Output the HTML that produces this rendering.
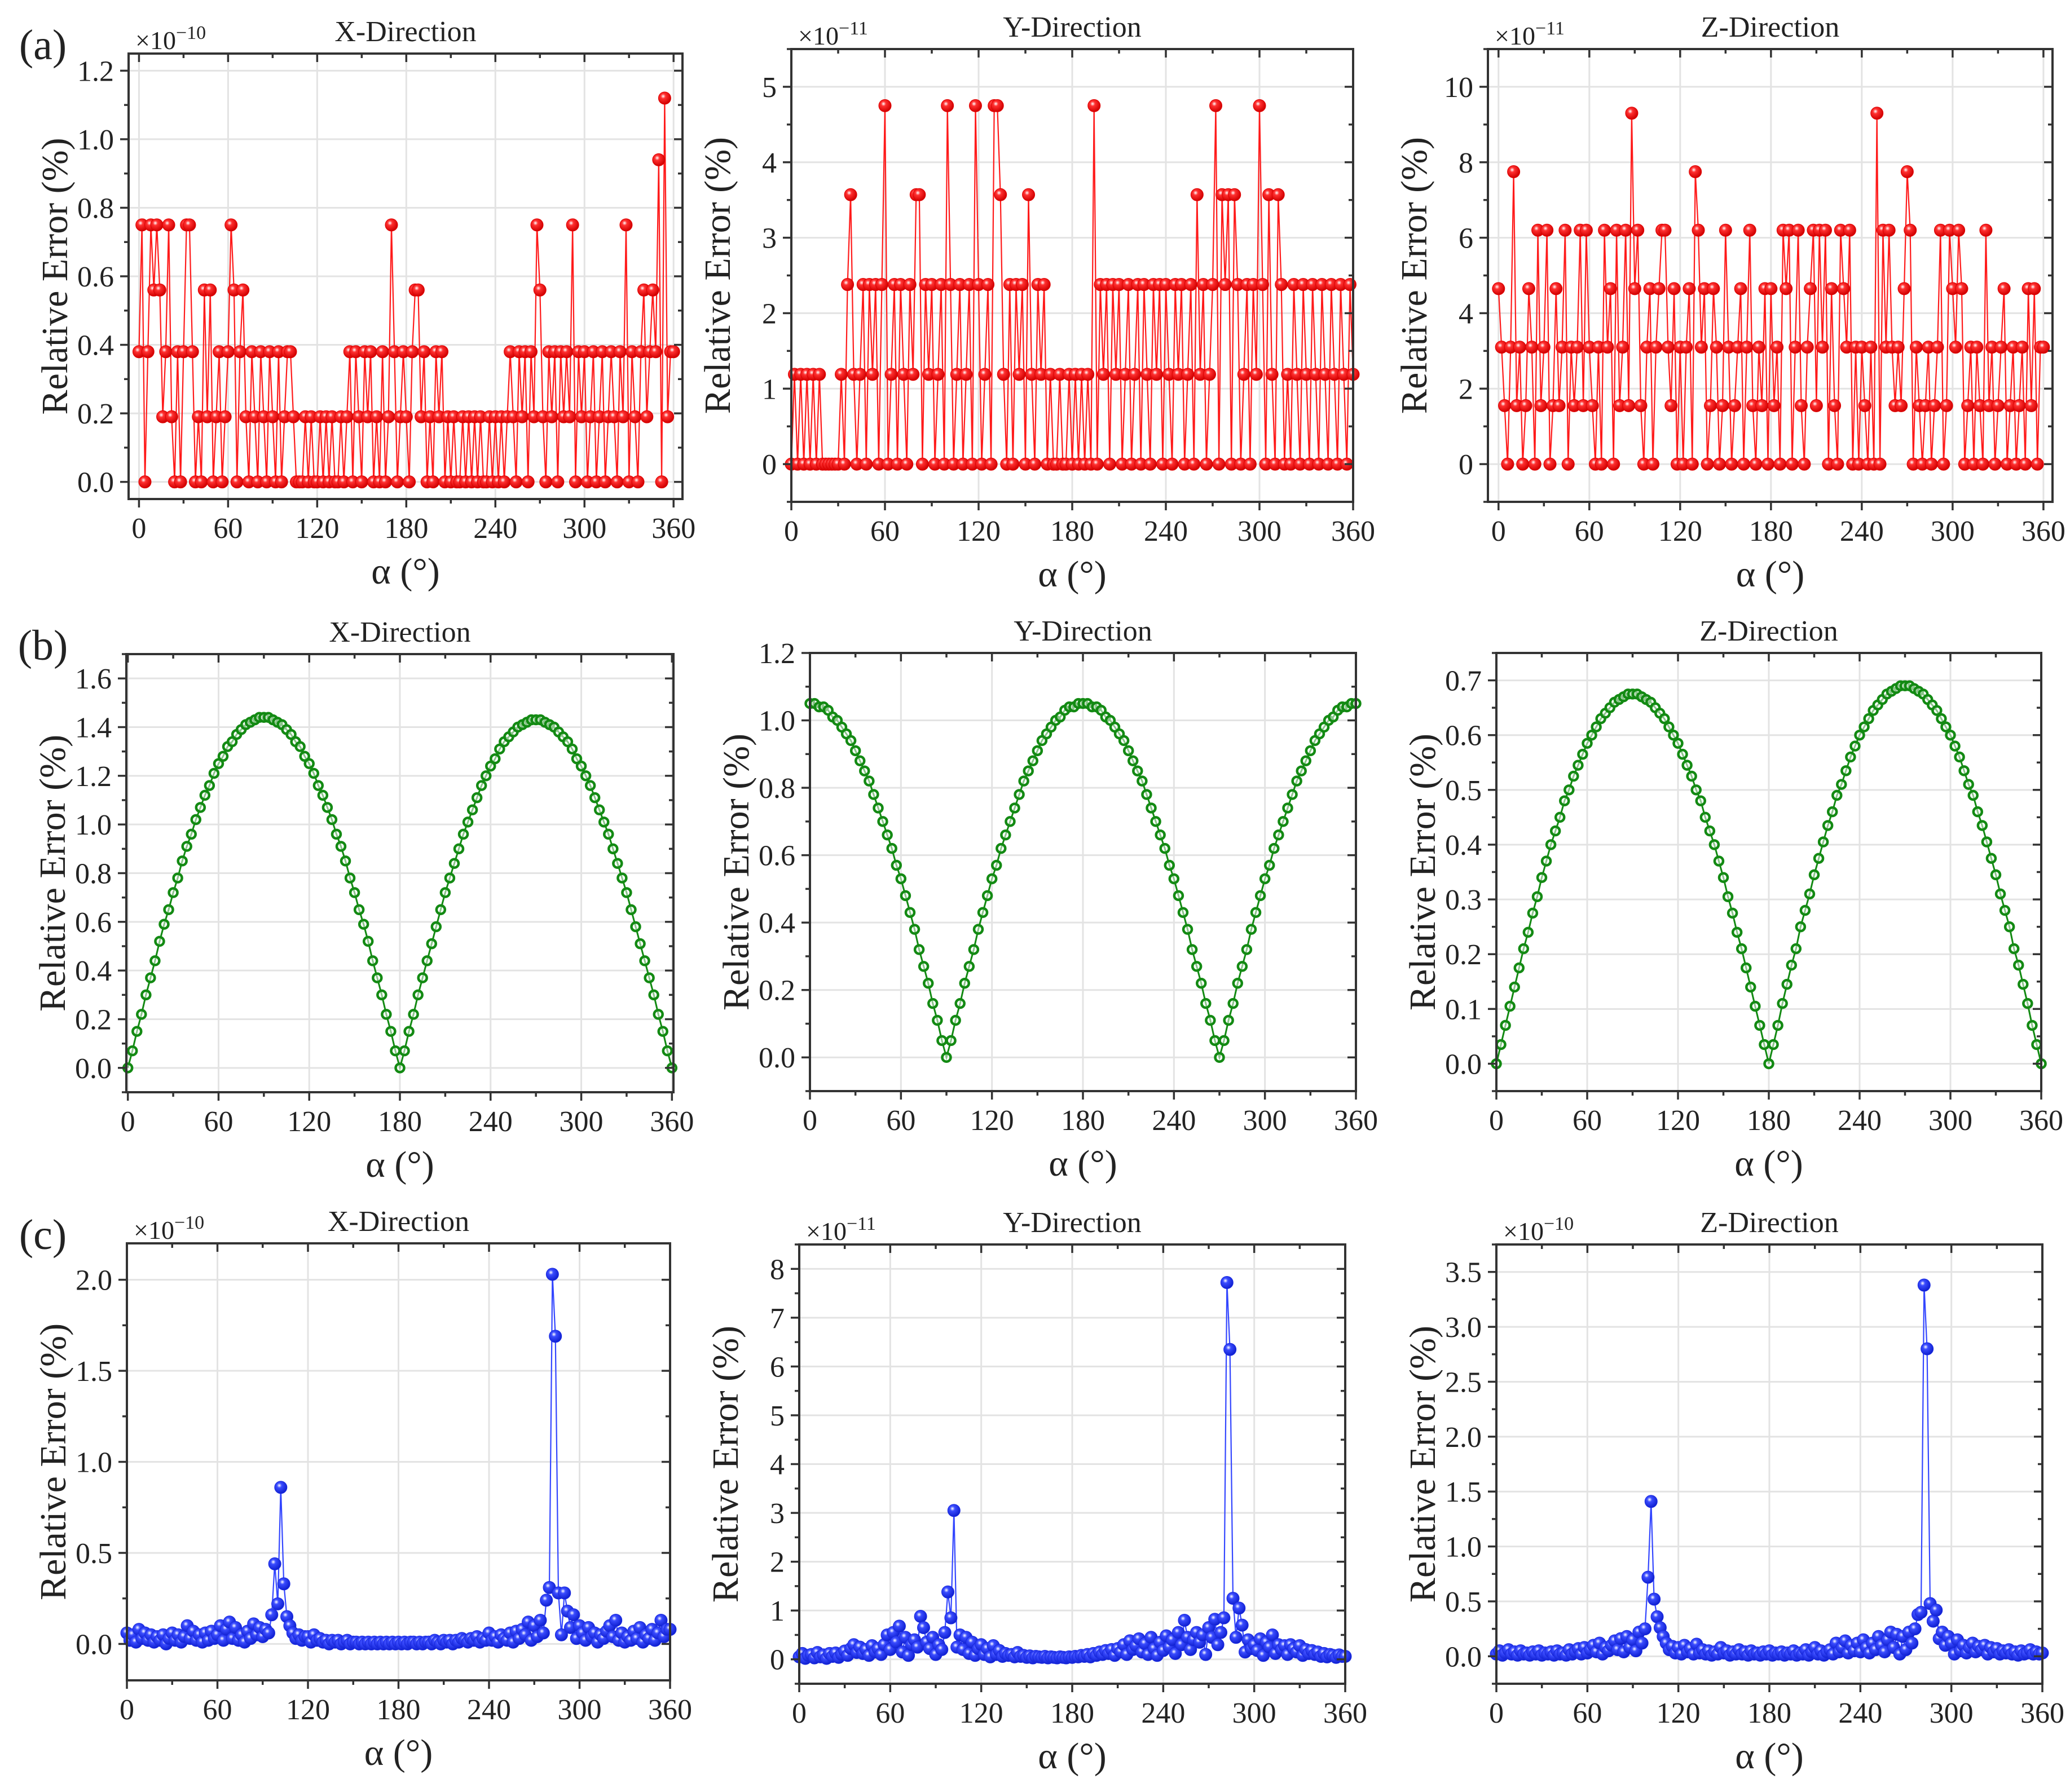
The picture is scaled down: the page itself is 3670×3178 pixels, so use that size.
<!DOCTYPE html>
<html><head><meta charset="utf-8"><style>
html,body{margin:0;padding:0;background:#fff;}
svg, svg text, svg tspan{font-family:"Liberation Serif","DejaVu Serif",serif;}
</style></head><body>
<svg id="fig" width="3670" height="3173" viewBox="0 0 3670 3173" xmlns="http://www.w3.org/2000/svg" font-family="Liberation Serif, DejaVu Serif, serif">
<defs>
<radialGradient id="gRed" cx="0.38" cy="0.35" r="0.65"><stop offset="0" stop-color="#ffffff"/><stop offset="0.3" stop-color="#ff3030"/><stop offset="1" stop-color="#d00000"/></radialGradient>
<radialGradient id="gBlue" cx="0.38" cy="0.35" r="0.65"><stop offset="0" stop-color="#ffffff"/><stop offset="0.3" stop-color="#3a4cff"/><stop offset="1" stop-color="#1020d0"/></radialGradient>
</defs>
</svg>
<script>
// ---- data (alpha step 2 deg for rows a and c, 3 deg for row b) ----
const ALPHA_STEP_AC = 2;
const ALPHA_STEP_B = 3;
const aX = [.38,.75,0,.38,.75,.56,.75,.56,.19,.38, .75,.19,0,.38,0,.38,.75,.75,.38,0, .19,0,.56,.19,.56,0,.19,.38,0,.19, .38,.75,.56,0,.38,.56,.19,0,.38,.19, 0,.38,.19,0,.38,.19,0,.38,0,.19, .38,.38,.19,0,0,0,.19,0,.19,0, 0,.19,0,.19,0,.19,0,0,.19,0, .19,.38,0,.38,.19,0,.38,.19,.38,0, .19,0,.38,0,.19,.75,.38,0,.19,.38, .19,0,.38,.56,.56,.19,.38,0,.19,0, .38,.19,.38,0,.19,0,.19,0,0,.19, 0,.19,0,.19,0,.19,0,0,.19,0, .19,0,.19,0,.19,.38,.19,0,.38,.19, .38,0,.38,.19,.75,.56,.19,0,.38,.19, .38,0,.38,.19,.38,.19,.75,0,.38,.19, .38,0,.19,.38,0,.19,.38,0,.19,.38, .19,0,.38,.19,.75,0,.38,.19,0,.38, .56,.19,.38,.56,.38,.94,0,1.12,.19,.38, .38];
const aY = [0,1.19,0,1.19,0,1.19,0,1.19,0,1.19, 0,0,0,0,0,0,1.19,0,2.38,3.57, 1.19,0,1.19,2.38,0,2.38,1.19,2.38,0,2.38, 4.75,0,1.19,2.38,0,2.38,1.19,0,2.38,1.19, 3.57,3.57,0,2.38,1.19,2.38,0,1.19,2.38,0, 4.75,2.38,0,1.19,2.38,0,1.19,2.38,0,4.75, 2.38,0,1.19,2.38,0,4.75,4.75,3.57,1.19,0, 2.38,0,2.38,1.19,2.38,0,3.57,1.19,0,2.38, 1.19,2.38,0,1.19,0,0,1.19,0,0,1.19, 0,1.19,0,1.19,0,1.19,0,4.75,0,2.38, 1.19,2.38,0,2.38,1.19,2.38,0,1.19,2.38,0, 1.19,2.38,0,2.38,1.19,0,2.38,1.19,2.38,0, 2.38,1.19,0,2.38,1.19,2.38,0,1.19,2.38,0, 3.57,1.19,2.38,0,1.19,2.38,4.75,0,3.57,2.38, 3.57,0,3.57,2.38,0,1.19,2.38,0,2.38,1.19, 4.75,2.38,0,3.57,1.19,0,3.57,2.38,0,1.19, 0,2.38,1.19,0,2.38,1.19,0,2.38,1.19,0, 2.38,1.19,0,2.38,1.19,0,2.38,1.19,0,2.38, 1.19];
const aZ = [4.65,3.1,1.55,0,3.1,7.75,1.55,3.1,0,1.55, 4.65,3.1,0,6.2,1.55,3.1,6.2,0,1.55,4.65, 1.55,3.1,6.2,0,3.1,1.55,3.1,6.2,1.55,6.2, 3.1,1.55,0,3.1,0,6.2,3.1,4.65,0,6.2, 1.55,3.1,6.2,1.55,9.3,4.65,6.2,1.55,0,3.1, 4.65,0,3.1,4.65,6.2,6.2,3.1,1.55,4.65,0, 3.1,0,3.1,4.65,0,7.75,6.2,3.1,4.65,0, 1.55,4.65,3.1,0,1.55,6.2,3.1,0,1.55,3.1, 4.65,0,3.1,6.2,1.55,0,3.1,1.55,4.65,0, 4.65,1.55,3.1,0,6.2,4.65,6.2,0,3.1,6.2, 1.55,0,3.1,4.65,6.2,1.55,6.2,3.1,6.2,0, 4.65,1.55,0,6.2,4.65,3.1,6.2,0,3.1,0, 3.1,1.55,0,3.1,0,9.3,0,6.2,3.1,6.2, 3.1,1.55,3.1,1.55,4.65,7.75,6.2,0,3.1,1.55, 0,1.55,3.1,0,1.55,3.1,6.2,0,1.55,6.2, 4.65,3.1,6.2,4.65,0,1.55,3.1,0,3.1,1.55, 0,6.2,1.55,3.1,0,1.55,3.1,4.65,0,1.55, 3.1,0,1.55,3.1,0,4.65,1.55,4.65,0,3.1, 3.1];
const bX = [0,.07,.15,.22,.30,.37,.44,.52,.59,.65,.72,.78,.85,.91,.96,1.02,1.07,1.12,1.16,1.21,1.25,1.28,1.32,1.34,1.37,1.39,1.41,1.42,1.43,1.44,1.44,
 1.44,1.43,1.42,1.41,1.39,1.37,1.34,1.32,1.28,1.25,1.21,1.16,1.12,1.07,1.02,.96,.91,.85,.78,.72,.65,.59,.52,.44,.37,.30,.22,.15,.07,0,
 .07,.15,.22,.30,.37,.44,.51,.58,.65,.72,.78,.84,.90,.96,1.01,1.06,1.11,1.16,1.20,1.24,1.27,1.31,1.34,1.36,1.38,1.40,1.41,1.42,1.43,1.43,
 1.43,1.42,1.41,1.40,1.38,1.36,1.34,1.31,1.27,1.24,1.20,1.16,1.11,1.06,1.01,.96,.90,.84,.78,.72,.65,.58,.51,.44,.37,.30,.22,.15,.07,0];
const bY = [1.05,1.05,1.04,1.04,1.03,1.01,1.00,.98,.96,.94,.91,.88,.85,.82,.78,.74,.70,.66,.62,.57,.53,.48,.43,.38,.32,.27,.22,.16,.11,.05,0,
 .05,.11,.16,.22,.27,.32,.38,.43,.48,.53,.57,.62,.66,.70,.74,.78,.82,.85,.88,.91,.94,.96,.98,1.00,1.01,1.03,1.04,1.04,1.05,1.05,
 1.05,1.04,1.04,1.03,1.01,1.00,.98,.96,.94,.91,.88,.85,.82,.78,.74,.70,.66,.62,.57,.53,.48,.43,.38,.32,.27,.22,.16,.11,.05,0,
 .05,.11,.16,.22,.27,.32,.38,.43,.48,.53,.57,.62,.66,.70,.74,.78,.82,.85,.88,.91,.94,.96,.98,1.00,1.01,1.03,1.04,1.04,1.05,1.05];
const bZ = [0,.035,.07,.105,.14,.175,.21,.24,.275,.305,.34,.37,.40,.425,.45,.48,.50,.525,.545,.565,.585,.60,.615,.63,.64,.65,.66,.665,.67,.675,.675,
 .675,.67,.665,.66,.65,.64,.63,.615,.60,.585,.565,.545,.525,.50,.48,.45,.425,.40,.37,.34,.305,.275,.24,.21,.175,.14,.105,.07,.035,0,
 .035,.07,.11,.145,.18,.21,.25,.28,.31,.345,.375,.405,.435,.46,.49,.51,.535,.56,.58,.60,.615,.63,.645,.655,.665,.675,.68,.685,.69,.69,
 .69,.685,.68,.675,.665,.655,.645,.63,.615,.60,.58,.56,.535,.51,.49,.46,.435,.405,.375,.345,.31,.28,.25,.21,.18,.145,.11,.07,.035,0];
const cX = [.06,.02,.05,.01,.08,.03,.06,.02,.05,.01, .04,.02,.05,0,.03,.06,.02,.05,.01,.04, .10,.03,.07,.02,.05,.01,.06,.02,.07,.03, .05,.10,.02,.08,.12,.03,.09,.02,.05,.01, .07,.03,.11,.05,.09,.04,.08,.06,.16,.44, .22,.86,.33,.15,.10,.06,.03,.05,.02,.04, .04,.01,.05,.02,.03,.01,.02,0,.02,.01, .02,0,.01,.02,0,.01,.01,0,.01,0, .01,0,.01,0,.01,0,.01,0,.01,0, .01,0,.01,0,.01,.01,0,.01,0,.01, .01,0,.02,.01,0,.02,.01,.02,0,.02, .01,.03,.02,.01,.03,.02,.04,.01,.03,.02, .06,.02,.04,.01,.05,.03,.02,.06,.01,.07, .03,.08,.05,.12,.02,.10,.04,.13,.06,.24, .31,2.03,1.69,.28,.05,.28,.18,.09,.16,.03, .10,.06,.02,.09,.04,.06,.01,.05,.03,.07, .10,.04,.13,.02,.06,.01,.04,.02,.07,.03, .09,.01,.05,.03,.08,.02,.06,.13,.04,.08, .08];
const cY = [.05,.12,.02,.08,.10,.03,.14,.05,.09,.02, .12,.06,.13,.04,.10,.17,.08,.22,.30,.14, .25,.12,.20,.08,.28,.15,.22,.10,.30,.50, .20,.55,.35,.68,.15,.45,.08,.30,.40,.25, .88,.65,.35,.22,.45,.10,.30,.20,.55,1.38, .85,3.05,.25,.50,.20,.45,.12,.35,.08,.22, .30,.10,.22,.05,.28,.10,.18,.06,.12,.08, .10,.05,.14,.06,.08,.04,.07,.03,.06,.05, .04,.06,.03,.05,.04,.03,.05,.04,.03,.05, .04,.06,.05,.08,.06,.10,.05,.12,.08,.15, .10,.18,.12,.20,.08,.22,.15,.30,.10,.38, .20,.28,.42,.15,.32,.10,.45,.22,.08,.35, .18,.48,.25,.40,.12,.55,.30,.80,.45,.20, .40,.55,.35,.50,.10,.65,.45,.82,.30,.55, .85,7.72,6.35,1.25,.45,1.05,.70,.15,.40,.22, .30,.18,.42,.08,.35,.25,.50,.12,.30,.20, .28,.10,.30,.22,.15,.28,.08,.20,.12,.18, .10,.15,.06,.12,.05,.10,.08,.04,.09,.06, .06];
const cZ = [.02,.05,.01,.03,.06,.02,.04,.01,.05,.02, .03,.01,.04,.02,.05,.01,.03,.02,.04,.01, .05,.02,.03,.01,.06,.02,.04,.07,.02,.08, .03,.06,.10,.04,.12,.02,.08,.05,.10,.14, .06,.16,.04,.18,.08,.15,.05,.22,.12,.25, .72,1.41,.52,.36,.26,.18,.12,.06,.09,.03, .08,.02,.10,.04,.07,.02,.11,.03,.06,.02, .05,.01,.04,.02,.08,.03,.05,.01,.04,.02, .06,.02,.04,.01,.05,.02,.03,.01,.04,.02, .05,.01,.03,.02,.04,.01,.03,.02,.05,.01, .03,.02,.06,.01,.04,.08,.02,.05,.01,.04, .06,.02,.12,.04,.08,.14,.03,.10,.05,.12, .04,.15,.08,.03,.12,.06,.18,.10,.04,.15, .22,.08,.20,.02,.18,.06,.22,.12,.25,.38, .40,3.38,2.80,.48,.32,.42,.16,.22,.10,.18, .12,.02,.15,.05,.10,.03,.08,.12,.04,.09, .06,.10,.02,.08,.04,.07,.02,.05,.03,.06, .02,.04,.01,.05,.02,.03,.06,.02,.04,.02, .03];
const xTickLabels = ["0","60","120","180","240","300","360"];

// ---- layout ----
const panels = [
 {id:'a-x',data:aX,step:ALPHA_STEP_AC,L:228,R:1210,T:95,B:885,xmin:-7,xmax:366,ymin:-0.05,ymax:1.25,ys:0.2,ymax_t:1.2,ym:0.1,dec:1,exp:'−10',title:'X-Direction',kind:'red',label:'(a)'},
 {id:'a-y',data:aY,step:ALPHA_STEP_AC,L:1403,R:2399,T:87,B:890,xmin:0,xmax:360,ymin:-0.5,ymax:5.5,ys:1,ymax_t:5,ym:0.5,dec:0,exp:'−11',title:'Y-Direction',kind:'red'},
 {id:'a-z',data:aZ,step:ALPHA_STEP_AC,L:2638,R:3639,T:87,B:890,xmin:-7,xmax:366,ymin:-1,ymax:11,ys:2,ymax_t:10,ym:1,dec:0,exp:'−11',title:'Z-Direction',kind:'red'},
 {id:'b-x',data:bX,step:ALPHA_STEP_B,L:224,R:1194,T:1160,B:1937,xmin:-1,xmax:361,ymin:-0.1,ymax:1.7,ys:0.2,ymax_t:1.6,ym:0.1,dec:1,title:'X-Direction',kind:'green',label:'(b)'},
 {id:'b-y',data:bY,step:ALPHA_STEP_B,L:1436,R:2404,T:1158,B:1935,xmin:0,xmax:360,ymin:-0.1,ymax:1.2,ys:0.2,ymax_t:1.2,ym:0.1,dec:1,title:'Y-Direction',kind:'green'},
 {id:'b-z',data:bZ,step:ALPHA_STEP_B,L:2653,R:3619,T:1158,B:1935,xmin:0,xmax:360,ymin:-0.05,ymax:0.75,ys:0.1,ymax_t:0.7,ym:0.05,dec:1,title:'Z-Direction',kind:'green'},
 {id:'c-x',data:cX,step:ALPHA_STEP_AC,L:225,R:1188,T:2205,B:2980,xmin:0,xmax:360,ymin:-0.2,ymax:2.2,ys:0.5,ymax_t:2.0,ym:0.25,dec:1,exp:'−10',title:'X-Direction',kind:'blue',label:'(c)'},
 {id:'c-y',data:cY,step:ALPHA_STEP_AC,L:1417,R:2385,T:2207,B:2986,xmin:0,xmax:360,ymin:-0.5,ymax:8.5,ys:1,ymax_t:8,ym:0.5,dec:0,exp:'−11',title:'Y-Direction',kind:'blue'},
 {id:'c-z',data:cZ,step:ALPHA_STEP_AC,L:2653,R:3621,T:2207,B:2986,xmin:0,xmax:360,ymin:-0.25,ymax:3.75,ys:0.5,ymax_t:3.5,ym:0.25,dec:1,exp:'−10',title:'Z-Direction',kind:'blue'}
];
const NS = 'http://www.w3.org/2000/svg';
const FONT = '"Liberation Serif", "DejaVu Serif", serif';
const svg = document.getElementById('fig');
function mk(tag, attrs, parent, text){
  const e = document.createElementNS(NS, tag);
  for (const k in attrs) e.setAttribute(k, attrs[k]);
  if (tag === 'text' || tag === 'g') e.style.fontFamily = FONT;
  if (text !== undefined) e.textContent = text;
  parent.appendChild(e);
  return e;
}
panels.forEach(p => {
  const g = mk('g', {}, svg);
  
  
  const sx = v => p.L + (v - p.xmin) / (p.xmax - p.xmin) * (p.R - p.L);
  const sy = v => p.B - (v - p.ymin) / (p.ymax - p.ymin) * (p.B - p.T);
  const grid = mk('g', {stroke:'#e3e3e3','stroke-width':3}, g);
  
  
  for (let i = 0; i < xTickLabels.length; i++) {
    const x = sx(Number(xTickLabels[i]));
    mk('line', {x1:x, x2:x, y1:p.T, y2:p.B}, grid);
  }
  const nY = Math.round(p.ymax_t / p.ys);
  for (let i = 0; i <= nY; i++) {
    const y = sy(i * p.ys);
    mk('line', {x1:p.L, x2:p.R, y1:y, y2:y}, grid);
  }
  const n = p.data.length;
  const pts = [];
  for (let i = 0; i < n; i++) pts.push(sx(i * p.step).toFixed(1) + ',' + sy(p.data[i]).toFixed(1));
  const col = p.kind === 'red' ? '#ff1a1a' : p.kind === 'blue' ? '#3346ff' : '#138a13';
  const line = mk('polyline', {points:pts.join(' '), fill:'none', stroke:col, 'stroke-width':p.kind === 'green' ? 3 : 2.2}, g);
  
  
  const mg = mk('g', {}, g);
  
  
  for (let i = 0; i < n; i++) {
    const cx = sx(i * p.step), cy = sy(p.data[i]);
    let c;
    if (p.kind === 'green') c = mk('circle', {cx:cx, cy:cy, r:7.5, fill:'#fff', 'fill-opacity':0.5, stroke:'#138a13', 'stroke-width':4.5}, mg);
    else c = mk('circle', {cx:cx, cy:cy, r:11, fill:p.kind === 'red' ? 'url(#gRed)' : 'url(#gBlue)', stroke:p.kind === 'red' ? '#e00000' : '#1a2ae0', 'stroke-width':1}, mg);
    
    
  }
  const tk = mk('g', {stroke:'#333','stroke-width':3.5}, g);
  
  
  for (let v = 0; v <= 360; v += 30) {
    const x = sx(v), len = (v % 60 === 0) ? 15 : 8;
    mk('line', {x1:x, x2:x, y1:p.B, y2:p.B + len}, tk);
    mk('line', {x1:x, x2:x, y1:p.T, y2:p.T + len}, tk);
  }
  const nm = Math.floor((p.ymax - 0) / p.ym + 1e-6);
  const nmLow = Math.floor((0 - p.ymin) / p.ym + 1e-6);
  for (let i = -nmLow; i <= nm; i++) {
    const v = i * p.ym, y = sy(v);
    const major = Math.abs(v / p.ys - Math.round(v / p.ys)) < 1e-6;
    const len = major ? 15 : 8;
    mk('line', {x1:p.L - len, x2:p.L, y1:y, y2:y}, tk);
    mk('line', {x1:p.R - len, x2:p.R, y1:y, y2:y}, tk);
  }
  const fr = mk('rect', {x:p.L, y:p.T, width:p.R - p.L, height:p.B - p.T, fill:'none', stroke:'#333', 'stroke-width':4}, g);
  
  
  const xl = mk('g', {'font-size':52, fill:'#222', 'text-anchor':'middle'}, g);
  
  
  for (let i = 0; i < xTickLabels.length; i++) {
    const t = mk('text', {x:sx(Number(xTickLabels[i])), y:p.B + 69}, xl, xTickLabels[i]);
    
    
  }
  const yl = mk('g', {'font-size':52, fill:'#222', 'text-anchor':'end'}, g);
  
  
  for (let i = 0; i <= nY; i++) {
    const v = i * p.ys;
    const t = mk('text', {x:p.L - 26, y:sy(v) + 18}, yl, v.toFixed(p.dec));
    
    
  }
  const xt = mk('text', {x:(p.L + p.R) / 2, y:p.B + 150, 'font-size':66, 'text-anchor':'middle', fill:'#222'}, g, 'α (°)');
  
  
  const yx = p.L - 132, yc = (p.T + p.B) / 2;
  const yt = mk('text', {x:yx, y:yc, 'font-size':66, 'text-anchor':'middle', fill:'#222', transform:'rotate(-90 ' + yx + ' ' + yc + ') translate(0 23)'}, g, 'Relative Error (%)');
  
  
  const ti = mk('text', {x:(p.L + p.R) / 2, y:p.T - 22, 'font-size':52, 'text-anchor':'middle', fill:'#222'}, g, p.title);
  
  
  if (p.exp) {
    const ex = mk('text', {x:p.L + 12, y:p.T - 8, 'font-size':46, fill:'#222'}, g);
    
    
    mk('tspan', {}, ex, '×10');
    mk('tspan', {'font-size':34, dy:-18}, ex, p.exp);
  }
  if (p.label) {
    const lb = mk('text', {x:76, y:p.T + 10, 'font-size':76, 'text-anchor':'middle', fill:'#222'}, g, p.label);
    
    
  }
});
</script>
</body></html>
